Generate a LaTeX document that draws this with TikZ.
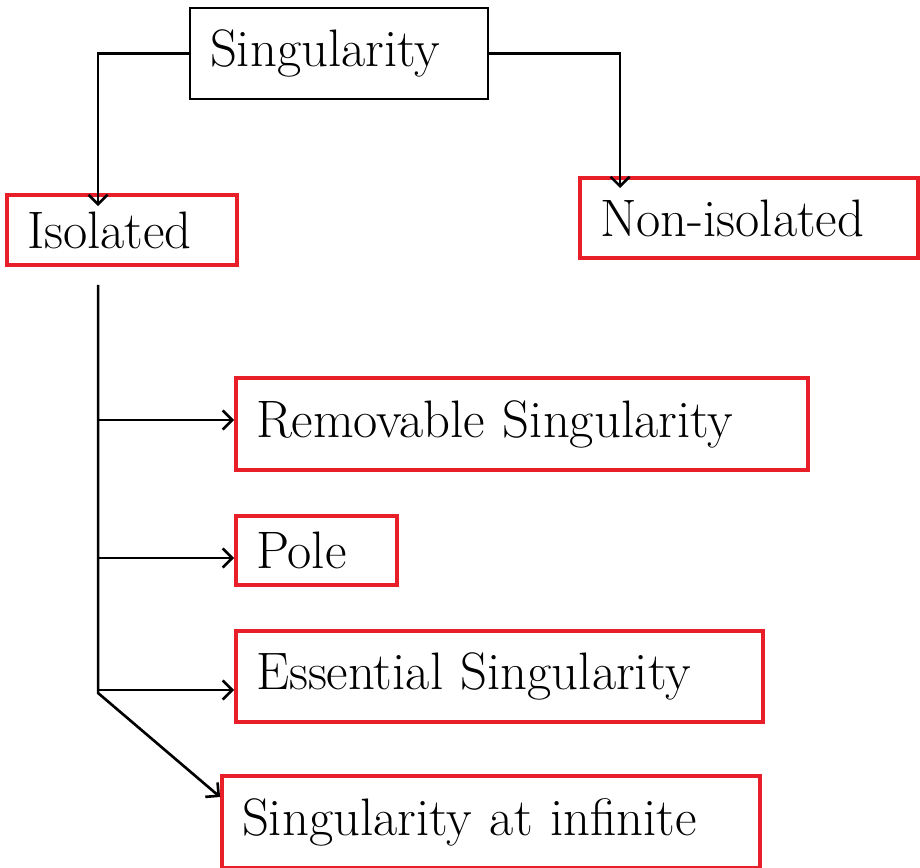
\documentclass[tikz,border=0pt]{standalone}
\usepackage{xcolor}
\usepackage{tikz}
\usetikzlibrary{arrows.meta, calc}

\definecolor{boxred}{RGB}{232,30,40}

\begin{document}
\begin{tikzpicture}[
		font = \fontsize{30}{34}\selectfont,
		topbox/.style = {draw, line width = 1.5pt, inner ysep = 0pt, inner xsep = 0.4cm, align = left},
		box/.style = {draw = boxred, line width = 2.2pt, inner ysep = 0pt, inner xsep = 0.4cm, align = left},
		conn/.style = {line width = 1.5pt, -{Straight Barb[length = 1.9mm, width = 3.8mm]}}
	]
		\useasboundingbox (0,0) rectangle (18.4,-17.34);
		
		\node [topbox, text width = 5.16cm, minimum height = 1.82cm] (sing) at (6.78,-1.07) {Singularity};
		
		\node [box, text width = 3.8cm, minimum height = 1.4cm] (iso) at (2.44,-4.6) {Isolated};
		\node [box, text width = 5.96cm, minimum height = 1.6cm] (non) at (14.98,-4.36) {Non-isolated};
		
		\node [box, text width = 10.64cm, minimum height = 1.84cm] (rem) at (10.44,-8.48) {Removable Singularity};
		\node [box, text width = 2.42cm, minimum height = 1.38cm] (pole) at (6.33,-11.01) {Pole};
		\node [box, text width = 9.74cm, minimum height = 1.82cm] (ess) at (9.99,-13.53) {Essential Singularity};
		\node [box, text width = 9.96cm, minimum height = 1.84cm] (inf) at (9.82,-16.44) {Singularity at infinite};
		
		% ends of the connectors
		\coordinate (isoin) at ([xshift = 1.86cm, yshift = -0.26cm]iso.north west);
		\coordinate (nonin) at ([xshift = 0.84cm, yshift = -0.24cm]non.north west);
		\coordinate (trunktop) at ([yshift = -0.36cm]iso.south -| isoin);
		\coordinate (trunkbot) at (trunktop |- 0,-13.86);
		
		\draw [conn] (sing.west) -| (isoin);
		\draw [conn] (sing.east) -| (nonin);
		
		\draw [conn] (trunktop) -- (trunkbot) -- ([yshift = 0.5cm]inf.west);
		
		\draw [conn] ([yshift = 0.08cm]rem.west -| trunktop) -- ([yshift = 0.08cm]rem.west);
		\draw [conn] ([yshift = -0.15cm]pole.west -| trunktop) -- ([yshift = -0.15cm]pole.west);
		\draw [conn] ([yshift = -0.27cm]ess.west -| trunktop) -- ([yshift = -0.27cm]ess.west);
	\end{tikzpicture}
\end{document}
